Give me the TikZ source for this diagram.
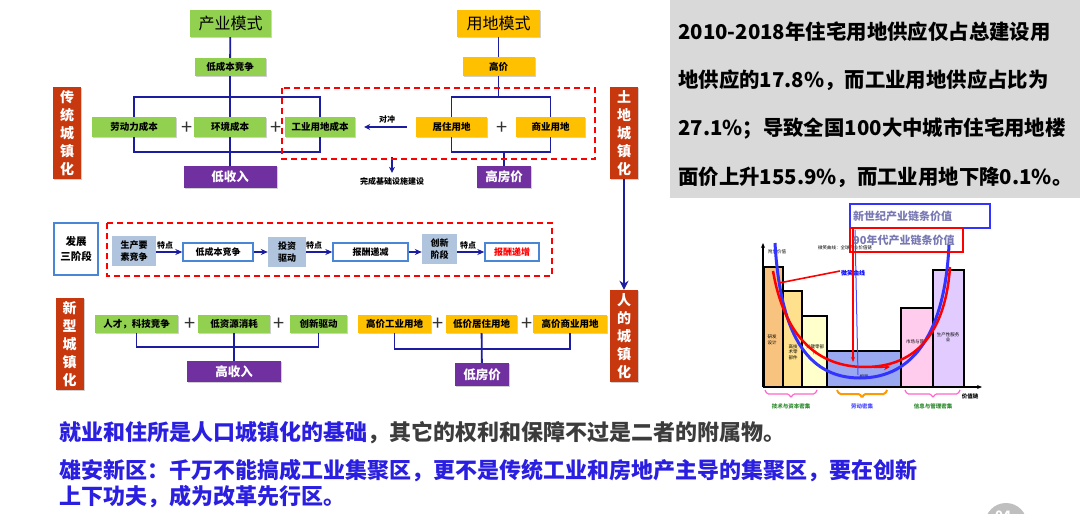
\documentclass[tikz,border=0pt]{standalone}
\usepackage{fontspec}
\setmainfont{Noto Sans CJK SC}
\usetikzlibrary{arrows.meta,shadows,calc}
\definecolor{cgreen}{HTML}{92D050}
\definecolor{cgold}{HTML}{FFC000}
\definecolor{cpurple}{HTML}{7030A0}
\definecolor{cred}{HTML}{C8380F}
\definecolor{cline}{HTML}{1C1CA0}
\definecolor{csteel}{HTML}{B0C4DE}
\definecolor{cbord}{HTML}{4A86D6}
\definecolor{tblue}{HTML}{2A1EE0}
\definecolor{tgray}{HTML}{3C3C3C}
\definecolor{cpanel}{HTML}{D9D9D9}
\definecolor{chA}{HTML}{F8C37F}
\definecolor{chB}{HTML}{FFE08C}
\definecolor{chC}{HTML}{FFFFCC}
\definecolor{chD}{HTML}{99A8F0}
\definecolor{chE}{HTML}{FFCCEE}
\definecolor{chF}{HTML}{E2CCFF}
\definecolor{legtxt}{HTML}{7878B4}
\definecolor{cmag}{HTML}{FF66CC}
\definecolor{corg}{HTML}{FF9900}
\definecolor{cgtxt}{HTML}{2E8B2E}
\tikzset{
  bx/.style={inner sep=0pt, align=center, drop shadow={shadow xshift=1pt, shadow yshift=-1pt, opacity=0.3, fill=black!60}},
  wh/.style 2 args={minimum width=#1 pt, minimum height=#2 pt},
  tb/.style={font=\bfseries\fontsize{9.5}{11}\selectfont},
  gbox/.style={bx, fill=cgreen, tb},
  ybox/.style={bx, fill=cgold, tb},
  pbox/.style={bx, fill=cpurple, text=white, font=\bfseries\fontsize{12.5}{14}\selectfont},
  redv/.style={bx, fill=cred, text=white, font=\bfseries\fontsize{14}{18}\selectfont, minimum width=28pt, minimum height=92pt},
  sbox/.style={inner sep=0pt, align=center, fill=csteel, font=\bfseries\fontsize{9}{12}\selectfont},
  obox/.style={inner sep=0pt, align=center, fill=white, draw=cbord, line width=1.4pt, font=\bfseries\fontsize{9}{11}\selectfont},
  plus/.style={inner sep=0pt, font=\fontsize{20}{20}\selectfont, text=black!80},
  ln/.style={draw=cline, line width=1.8pt},
  rdash/.style={draw=red, line width=1.4pt, dash pattern=on 6pt off 4pt},
  marr/.style={draw=cline, line width=1.6pt, -{Stealth[length=7pt,width=6pt]}},
  tarr/.style={draw=cline, line width=1.2pt, -{Stealth[length=6pt,width=6pt]}},
  small/.style={inner sep=0pt, font=\bfseries\fontsize{8}{9}\selectfont},
  tiny/.style={inner sep=0pt, align=center, font=\fontsize{4.5}{5.5}\selectfont},
  ptxt/.style={anchor=west, inner sep=0pt, font=\bfseries\fontsize{20.4}{21}\selectfont},
  btxt/.style={anchor=west, inner sep=0pt, font=\bfseries\fontsize{22}{22}\selectfont},
}
\begin{document}
\begin{tikzpicture}[x=1pt,y=-1pt]
\useasboundingbox (0,0) rectangle (1080,514);
\fill[white] (0,0) rectangle (1080,514);

% ---------- top left group
\node[gbox, wh={81}{27}, font=\fontsize{16}{16}\selectfont] (cy) at (230.5,23.5) {产业模式};
\node[gbox, wh={71}{18}] (lcb) at (230,67) {低成本竞争};
\node[gbox, wh={84}{20}] (ldl) at (134,127) {劳动力成本};
\node[gbox, wh={72}{20}] (hj) at (230,127) {环境成本};
\node[gbox, wh={70}{20}] (gyd) at (320,127) {工业用地成本};
\node[pbox, wh={93}{22}] (dsr) at (230,177) {低收入};
\node[plus] (p1) at (187,128) {+};
\node[plus] (p2) at (276,128) {+};
\coordinate (t1) at (230,97);
\coordinate (b1) at (230,152);
\draw[ln] (cy) -- (lcb);
\draw[ln] (lcb) -- (hj);
\draw[ln] (hj) -- (dsr);
\draw[ln] (ldl.north) |- (t1) -| (gyd.north);
\draw[ln] (ldl.south) |- (b1) -| (gyd.south);

% ---------- top right group
\node[ybox, wh={83}{27}, font=\fontsize{16}{16}\selectfont] (ydm) at (498.5,23.5) {用地模式};
\node[ybox, wh={72}{19}] (gj) at (498.5,66.5) {高价};
\node[ybox, wh={71}{20}] (jz) at (451.5,127) {居住用地};
\node[ybox, wh={69}{20}] (sy) at (550.5,127) {商业用地};
\node[plus] (p3) at (502,128) {+};
\node[pbox, wh={54}{22}] (gfj) at (504,177) {高房价};
\coordinate (t2) at (498.5,97);
\coordinate (b2) at (504,152);
\draw[ln] (ydm) -- (gj);
\draw[ln] (gj) -- (t2);
\draw[ln] (jz.north) |- (t2) -| (sy.north);
\draw[ln] (jz.south) |- (b2) -| (sy.south);
\draw[ln] (b2) -- (gfj);
\draw[tarr] ([xshift=-9pt]jz.west) -- ([xshift=9pt]gyd.east);
\node[small] (dcl) at (387,119) {对冲};
\node[small] (wc) at (392,181) {完成基础设施建设};
\coordinate (wa) at (392,157);
\draw[tarr, shorten >=4pt] (wa) -- (wc.north);
\draw[rdash] (282,88) rectangle (595,159);

% ---------- vertical labels
\node[redv] (ctc) at (67,133) {传\\统\\城\\镇\\化};
\node[redv] (tdc) at (624,133) {土\\地\\城\\镇\\化};
\node[redv] (rdc) at (624,336) {人\\的\\城\\镇\\化};
\node[redv] (xxc) at (69.5,344) {新\\型\\城\\镇\\化};
\draw[ln, -{Stealth[length=9pt,width=9pt]}] (tdc) -- (rdc);

% ---------- middle row
\node[obox, wh={44}{52}, font=\bfseries\fontsize{10.5}{15}\selectfont] (fz) at (76,249) {发展\\三阶段};
\draw[rdash] (107,223) rectangle (552,276);
\node[sbox, wh={44}{30}] (s1) at (134,251) {生产要\\素竞争};
\node[obox, wh={70}{18}] (s2) at (218,252) {低成本竞争};
\node[sbox, wh={38}{30}] (s3) at (287,252) {投资\\驱动};
\node[obox, wh={75}{18}] (s4) at (370.5,252) {报酬递减};
\node[sbox, wh={35}{30}] (s5) at (439.5,249) {创新\\阶段};
\node[obox, wh={54}{18}, text=red] (s6) at (512,252) {报酬递增};
\draw[marr] (s1.east |- s2) -- (s2.west);
\draw[marr] (s2.east) -- (s3.west |- s2);
\draw[marr] (s3.east |- s4) -- (s4.west);
\draw[marr] (s4.east) -- (s5.west |- s4);
\draw[marr] (s5.east |- s6) -- (s6.west);
\node[small] (td1) at (165,245) {特点};
\node[small] (td2) at (314,245) {特点};
\node[small] (td3) at (468,245) {特点};

% ---------- bottom row
\node[gbox, wh={83}{18}] (r1) at (136.5,324) {人才，科技竞争};
\node[plus] (p5) at (190,324) {+};
\node[gbox, wh={72}{18}] (r2) at (234,324) {低资源消耗};
\node[plus] (p6) at (279,324) {+};
\node[gbox, wh={57}{18}] (r3) at (318.5,324) {创新驱动};
\node[pbox, wh={94}{21}] (gsr) at (234,371.5) {高收入};
\coordinate (b3) at (234,347);
\draw[ln] (r1.south) |- (b3) -| (r3.south);
\draw[ln] (r2) -- (gsr);
\node[ybox, wh={73}{18}] (q1) at (394.5,324) {高价工业用地};
\node[plus] (p7) at (438,324) {+};
\node[ybox, wh={71}{18}] (q2) at (481.5,324) {低价居住用地};
\node[plus] (p8) at (527,324) {+};
\node[ybox, wh={74}{18}] (q3) at (570,324) {高价商业用地};
\node[pbox, wh={54}{23}] (dfj) at (482,374.5) {低房价};
\coordinate (b4) at (481.5,349);
\draw[ln] (q1.south) |- (b4) -| (q3.south);
\draw[ln] (q2) -- (dfj);

% ---------- grey panel
\fill[cpanel] (670,0) rectangle (1080,198);
\node[ptxt] (l1) at (678,32) {2010-2018年住宅用地供应仅占总建设用};
\node[ptxt] (l2) at (678,80) {地供应的17.8\%，而工业用地供应占比为};
\node[ptxt] (l3) at (678,128) {27.1\%；导致全国100大中城市住宅用地楼};
\node[ptxt] (l4) at (678,177) {面价上升155.9\%，而工业用地下降0.1\%。};

% ---------- chart
\begin{scope}[line width=1.3pt]
\filldraw[fill=chA] (764,267) rectangle (783,387);
\filldraw[fill=chB] (783,291) rectangle (802,387);
\filldraw[fill=chC] (802,316) rectangle (827,387);
\filldraw[fill=chD] (827,351) rectangle (901,387);
\filldraw[fill=chE] (901,308) rectangle (933,387);
\filldraw[fill=chF] (933,270) rectangle (964,387);
\draw[-{Stealth[length=5pt,width=4pt]}] (763,387) -- (763,243);
\draw[-{Stealth[length=5pt,width=4pt]}] (763,387) -- (982,387);
\end{scope}
\node[tiny] (c1) at (772,340) {研发\\设计};
\node[tiny] (c2) at (793,352) {高技\\术零\\部件};
\node[tiny] (c3) at (815,350) {关键零部\\件};
\node[tiny] (c4) at (864,377) {组装};
\node[tiny] (c5) at (915,342) {市场与营};
\node[tiny] (c6) at (948,337) {生产性服务\\业};
\node[tiny, anchor=west] (c7) at (768,252) {附加价值};
\node[tiny, anchor=west] (c8) at (818,248) {微笑曲线：全球产业价值链};
% curves
\draw[blue!80, line width=3pt] (775,243) .. controls (780,330) and (805,378) .. (860,378) .. controls (915,378) and (945,330) .. (949,245);
\draw[red, line width=2.5pt] (773,271) .. controls (785,340) and (820,367) .. (865,367) .. controls (910,367) and (945,340) .. (950,267);
\draw[red, line width=1.5pt, -{Stealth[length=6pt,width=6pt]}] (874,367.5) -- (890,367);
\draw[red, line width=1.6pt] (840,271) -- (779,283);
\node[inner sep=0pt, font=\bfseries\fontsize{6}{6}\selectfont, text=blue] (c9) at (853,273) {微笑曲线};
\draw[red, line width=1.1pt, -{Stealth[length=5pt,width=4pt]}] (853,228) -- (853,362);
\draw[blue!70, line width=1pt] (855,230) -- (858,375);
% legend
\draw[blue!80, line width=1.2pt] (850,204) rectangle (990,228);
\draw[red, line width=1.2pt] (850,228) rectangle (963,252);
\node[anchor=west, inner sep=0pt, font=\bfseries\fontsize{11}{11}\selectfont, text=legtxt] (lg1) at (853,216) {新世纪产业链条价值};
\node[anchor=west, inner sep=0pt, font=\bfseries\fontsize{11}{11}\selectfont, text=legtxt] (lg2) at (853,240) {90年代产业链条价值};
% braces
\draw[cmag, line width=1.2pt, rounded corners=1.5pt] (765,390) -- (767,394) -- (789,394) -- (791,398) -- (793,394) -- (815,394) -- (817,390);
\draw[corg, line width=2pt, rounded corners=1.5pt] (837,390) -- (839,394) -- (860,394) -- (862,398) -- (864,394) -- (885,394) -- (887,390);
\draw[cmag, line width=1.2pt, rounded corners=1.5pt] (905,390) -- (907,394) -- (931,394) -- (933,398) -- (935,394) -- (958,394) -- (960,390);
\node[tiny, font=\bfseries\fontsize{5.5}{6}\selectfont, text=cgtxt] (c10) at (791,406) {技术与资本密集};
\node[tiny, font=\bfseries\fontsize{5.5}{6}\selectfont, text=blue!70] (c11) at (862,406) {劳动密集};
\node[tiny, font=\bfseries\fontsize{5.5}{6}\selectfont, text=cgtxt] (c12) at (933,406) {信息与管理密集};
\node[tiny, font=\bfseries\fontsize{5.5}{6}\selectfont] (c13) at (970,396) {价值链};

% ---------- bottom text
\node[btxt] (bt1) at (59,433) {\textcolor{tblue}{就业和住所是人口城镇化的基础}\textcolor{tgray}{，其它的权利和保障不过是二者的附属物。}};
\node[btxt, text=tblue] (bt2) at (59,471) {雄安新区：千万不能搞成工业集聚区，更不是传统工业和房地产主导的集聚区，要在创新};
\node[btxt, text=tblue] (bt3) at (59,497) {上下功夫，成为改革先行区。};

% page number
\fill[black!25] (1006,524) circle (21pt);
\node[inner sep=0pt, text=white, font=\bfseries\fontsize{13}{13}\selectfont] (pg) at (1003,516) {04};
\end{tikzpicture}
\end{document}
